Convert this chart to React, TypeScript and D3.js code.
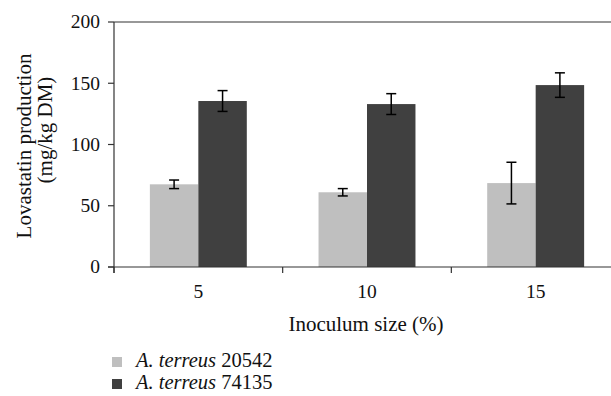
import React from 'react';
import * as d3 from 'd3';

const categories = ['5', '10', '15'];
const seriesNames = ['20542', '74135'];
const strain20542 = [67.5, 61, 68.5];
const strain20542Err = [3.5, 3, 17];
const strain74135 = [135.5, 133, 148.5];
const strain74135Err = [8.5, 8.5, 10];
const yTicks = [0, 50, 100, 150, 200];

const colors = ['#bfbfbf', '#404040'];
const font = '"Liberation Serif", "Times New Roman", serif';
const fs = 19.5;
const titleFs = 21;

const width = 611;
const height = 396;
const margin = { top: 22, left: 114, bottom: 267, right: 620 };

export default function App() {
  const y = d3.scaleLinear().domain([0, 200]).range([margin.bottom, margin.top]);
  const x0 = d3.scaleBand().domain(categories).range([margin.left, margin.right]).padding(0);
  const x1 = d3.scaleBand().domain(seriesNames).range([0, x0.bandwidth()]).paddingInner(0).paddingOuter(0.74);

  const values = [strain20542, strain74135];
  const errors = [strain20542Err, strain74135Err];

  // category tick boundaries
  const tickXs = categories.map(c => x0(c)!).concat([margin.right]);

  return (
    <svg width={width} height={height} style={{ position: 'absolute', left: 0, top: 0, background: '#fff' }} fontFamily={font}>
      {/* top border */}
      <line x1={margin.left} x2={width} y1={margin.top} y2={margin.top} stroke="#333" strokeWidth={1.2} />

      {/* bars */}
      {categories.map((c, i) => (
        <g key={c} transform={`translate(${x0(c)},0)`}>
          {seriesNames.map((s, j) => (
            <rect key={s} x={x1(s)} y={y(values[j][i])} width={x1.bandwidth()}
              height={y(0) - y(values[j][i])} fill={colors[j]} />
          ))}
        </g>
      ))}

      {/* error bars */}
      {categories.map((c, i) => (
        <g key={'e' + c} transform={`translate(${x0(c)},0)`}>
          {seriesNames.map((s, j) => {
            const cx = x1(s)! + x1.bandwidth() / 2;
            const hi = y(values[j][i] + errors[j][i]);
            const lo = y(values[j][i] - errors[j][i]);
            return (
              <g key={s} stroke="#000" strokeWidth={1.5}>
                <line x1={cx} x2={cx} y1={hi} y2={lo} />
                <line x1={cx - 5} x2={cx + 5} y1={hi} y2={hi} />
                <line x1={cx - 5} x2={cx + 5} y1={lo} y2={lo} />
              </g>
            );
          })}
        </g>
      ))}

      {/* y axis */}
      <line x1={margin.left} x2={margin.left} y1={margin.top} y2={margin.bottom + 6} stroke="#333" strokeWidth={1.2} />
      {yTicks.map(t => (
        <g key={t}>
          <line x1={margin.left - 6} x2={margin.left} y1={y(t)} y2={y(t)} stroke="#333" strokeWidth={1.2} />
          <text x={margin.left - 14} y={y(t)} dy="0.33em" textAnchor="end" fontSize={fs} fill="#111">{t}</text>
        </g>
      ))}

      {/* x axis */}
      <line x1={margin.left - 6} x2={width} y1={margin.bottom} y2={margin.bottom} stroke="#333" strokeWidth={1.2} />
      {tickXs.map((t, i) => (
        <line key={i} x1={t} x2={t} y1={margin.bottom} y2={margin.bottom + 6} stroke="#333" strokeWidth={1.2} />
      ))}
      {categories.map(c => (
        <text key={c} x={x0(c)! + x0.bandwidth() / 2} y={298} textAnchor="middle" fontSize={fs} fill="#111">{c}</text>
      ))}

      <text x={366} y={331} textAnchor="middle" fontSize={titleFs} fill="#111">Inoculum size (%)</text>

      {/* y title */}
      <text transform="translate(31,146) rotate(-90)" textAnchor="middle" fontSize={titleFs} fill="#111">Lovastatin production</text>
      <text transform="translate(52,130) rotate(-90)" textAnchor="middle" fontSize={titleFs} fill="#111">(mg/kg DM)</text>

      {/* legend */}
      {seriesNames.map((s, j) => (
        <g key={s} transform={`translate(112,${357 + j * 22})`}>
          <rect x={0} y={0} width={10} height={10} fill={colors[j]} />
          <text x={24} y={10} fontSize={20.5} fill="#111">
            <tspan fontStyle="italic">A. terreus</tspan> {s}
          </text>
        </g>
      ))}
    </svg>
  );
}
